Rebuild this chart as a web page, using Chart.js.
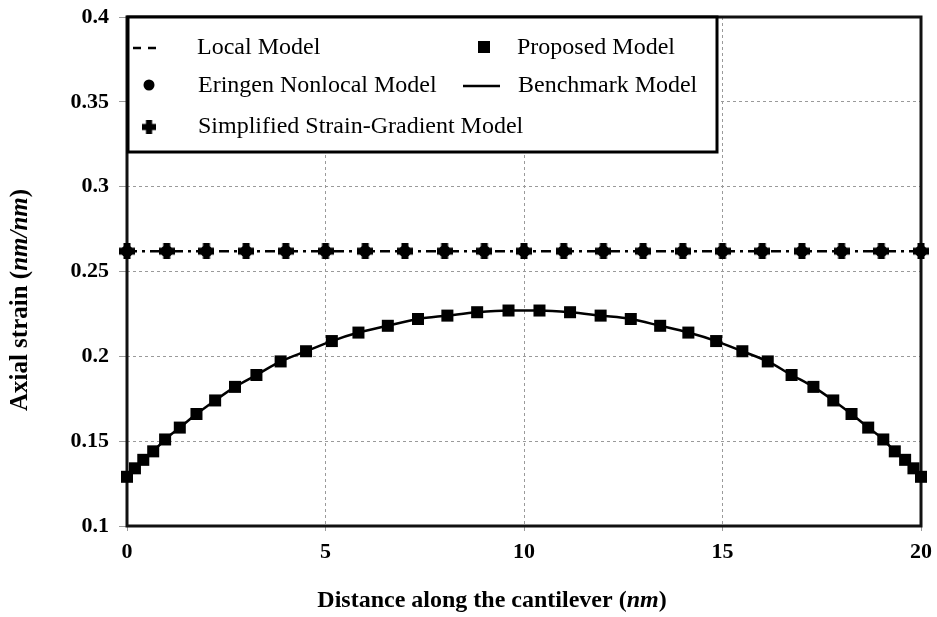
<!DOCTYPE html>
<html>
<head>
<meta charset="utf-8">
<script src="https://cdn.jsdelivr.net/npm/chart.js@4.4.0/dist/chart.umd.min.js"></script>
<style>
  html, body { margin: 0; padding: 0; background: #fff; }
  #wrap { width: 937px; height: 617px; position: relative; }
</style>
</head>
<body>
<div id="wrap"><canvas id="c" width="937" height="617"></canvas></div>
<script>
// ---- Data ----
const gridX = [0, 1, 2, 3, 4, 5, 6, 7, 8, 9, 10, 11, 12, 13, 14, 15, 16, 17, 18, 19, 20];
const localY = [0.262, 0.262, 0.262, 0.262, 0.262, 0.262, 0.262, 0.262, 0.262, 0.262, 0.262,
                0.262, 0.262, 0.262, 0.262, 0.262, 0.262, 0.262, 0.262, 0.262, 0.262];
const eringenY = [0.262, 0.262, 0.262, 0.262, 0.262, 0.262, 0.262, 0.262, 0.262, 0.262, 0.262,
                  0.262, 0.262, 0.262, 0.262, 0.262, 0.262, 0.262, 0.262, 0.262, 0.262];
const strainGradY = [0.262, 0.262, 0.262, 0.262, 0.262, 0.262, 0.262, 0.262, 0.262, 0.262, 0.262,
                     0.262, 0.262, 0.262, 0.262, 0.262, 0.262, 0.262, 0.262, 0.262, 0.262];
const proposedX = [0, 0.2, 0.41, 0.66, 0.96, 1.33, 1.75, 2.22, 2.72, 3.26, 3.87, 4.51, 5.16, 5.83, 6.57,
                   7.33, 8.07, 8.82, 9.61, 10.39, 11.16, 11.93, 12.69, 13.43, 14.14, 14.84, 15.50, 16.14,
                   16.74, 17.29, 17.79, 18.25, 18.67, 19.05, 19.34, 19.60, 19.81, 20.0];
const proposedY = [0.129, 0.134, 0.139, 0.144, 0.151, 0.158, 0.166, 0.174, 0.182, 0.189, 0.197, 0.203,
                   0.209, 0.214, 0.218, 0.222, 0.224, 0.226, 0.227, 0.227, 0.226, 0.224, 0.222, 0.218,
                   0.214, 0.209, 0.203, 0.197, 0.189, 0.182, 0.174, 0.166, 0.158, 0.151, 0.144, 0.139,
                   0.134, 0.129];
const benchmarkX = proposedX;
const benchmarkY = [0.128, 0.134, 0.139, 0.144, 0.151, 0.158, 0.166, 0.174, 0.182, 0.189, 0.197, 0.203,
                    0.209, 0.214, 0.218, 0.222, 0.224, 0.226, 0.227, 0.227, 0.226, 0.224, 0.222, 0.218,
                    0.214, 0.209, 0.203, 0.197, 0.189, 0.182, 0.174, 0.166, 0.158, 0.151, 0.144, 0.139,
                    0.134, 0.128];
const xTickValues = [0, 5, 10, 15, 20];
const yTickValues = [0.1, 0.15, 0.2, 0.25, 0.3, 0.35, 0.4];
const labels = {
  local: 'Local Model',
  eringen: 'Eringen Nonlocal Model',
  strainGrad: 'Simplified Strain-Gradient Model',
  proposed: 'Proposed Model',
  benchmark: 'Benchmark Model'
};
const xTitleParts = [['Distance along the cantilever ', false], ['(', false], ['nm', true], [')', false]];
const yTitleParts = [['Axial strain ', false], ['(', false], ['nm/nm', true], [')', false]];

const pts = (xs, ys) => xs.map((x, i) => ({ x: x, y: ys[i] }));

// fat plus marker
function plusCanvas(size, arm) {
  const c = document.createElement('canvas');
  c.width = size; c.height = size;
  const g = c.getContext('2d');
  g.fillStyle = '#000';
  g.fillRect((size - arm) / 2, 0, arm, size);
  g.fillRect(0, (size - arm) / 2, size, arm);
  return c;
}
const plusImg = plusCanvas(16, 7);

const SERIF = '"Liberation Serif", "Times New Roman", serif';

function drawMixed(ctx, parts, x, y, size) {
  let total = 0;
  const widths = parts.map(p => {
    ctx.font = (p[1] ? 'italic ' : '') + 'bold ' + size + 'px ' + SERIF;
    const w = ctx.measureText(p[0]).width;
    total += w;
    return w;
  });
  let cx = x - total / 2;
  ctx.textAlign = 'left';
  ctx.textBaseline = 'middle';
  parts.forEach((p, i) => {
    ctx.font = (p[1] ? 'italic ' : '') + 'bold ' + size + 'px ' + SERIF;
    ctx.fillText(p[0], cx, y);
    cx += widths[i];
  });
}

const framePlugin = {
  id: 'frame',
  beforeDatasetsDraw(chart) {
    const a = chart.chartArea, ctx = chart.ctx;
    ctx.save();
    ctx.strokeStyle = '#111';
    ctx.lineWidth = 3;
    ctx.strokeRect(a.left, a.top, a.right - a.left, a.bottom - a.top);
    ctx.restore();
  },
  afterDraw(chart) {
    const ctx = chart.ctx;
    const a = chart.chartArea;
    ctx.save();
    ctx.fillStyle = '#000';
    // axis titles
    drawMixed(ctx, xTitleParts, 492, 601, 24);
    ctx.save();
    ctx.translate(21, 300);
    ctx.rotate(-Math.PI / 2);
    drawMixed(ctx, yTitleParts, 0, 0, 25);
    ctx.restore();

    // legend box
    const bx = a.left + 1, by = a.top, bw = 717 - a.left - 1, bh = 135;
    ctx.fillStyle = '#fff';
    ctx.fillRect(bx, by, bw, bh);
    ctx.strokeStyle = '#000';
    ctx.lineWidth = 3;
    ctx.strokeRect(bx, by, bw, bh);

    ctx.fillStyle = '#000';
    ctx.font = '24px ' + SERIF;
    ctx.textAlign = 'left';
    ctx.textBaseline = 'middle';
    const r1 = by + 31, r2 = by + 69, r3 = by + 110;
    // Local (dashed)
    ctx.lineWidth = 2.5;
    ctx.setLineDash([8, 7]);
    ctx.beginPath(); ctx.moveTo(133, r1); ctx.lineTo(162, r1); ctx.stroke();
    ctx.setLineDash([]);
    ctx.fillText(labels.local, 197, r1);
    // Eringen (circle)
    ctx.beginPath(); ctx.arc(149, r2 - 1, 5.5, 0, Math.PI * 2); ctx.fill();
    ctx.fillText(labels.eringen, 198, r2);
    // Strain-gradient (plus)
    ctx.drawImage(plusImg, 149 - 7, r3 - 7, 14, 14);
    ctx.fillText(labels.strainGrad, 198, r3);
    // Proposed (square)
    ctx.fillRect(484 - 6, r1 - 7, 12, 12);
    ctx.fillText(labels.proposed, 517, r1);
    // Benchmark (solid line)
    ctx.lineWidth = 2.5;
    ctx.beginPath(); ctx.moveTo(463, r2); ctx.lineTo(500, r2); ctx.stroke();
    ctx.fillText(labels.benchmark, 518, r2);
    ctx.restore();
  }
};

new Chart(document.getElementById('c'), {
  type: 'scatter',
  data: {
    datasets: [
      {
        label: labels.benchmark,
        data: pts(benchmarkX, benchmarkY),
        showLine: true, tension: 0.4, cubicInterpolationMode: 'monotone',
        borderColor: '#000', borderWidth: 2.5, pointRadius: 0, order: 5
      },
      {
        label: labels.local,
        data: pts(gridX, localY),
        showLine: true, borderColor: '#000', borderWidth: 2.5,
        borderDash: [10, 5, 3, 5], pointRadius: 0, order: 4
      },
      {
        label: labels.proposed,
        data: pts(proposedX, proposedY),
        showLine: false, pointStyle: 'rect', pointRadius: 8.5,
        backgroundColor: '#000', borderColor: '#000', borderWidth: 0, order: 3
      },
      {
        label: labels.strainGrad,
        data: pts(gridX, strainGradY),
        showLine: false, pointStyle: plusImg, pointRadius: 8, order: 2
      },
      {
        label: labels.eringen,
        data: pts(gridX, eringenY),
        showLine: false, pointStyle: 'circle', pointRadius: 6,
        backgroundColor: '#000', borderColor: '#000', borderWidth: 0, order: 1
      }
    ]
  },
  options: {
    responsive: false,
    animation: false,
    clip: false,
    layout: { padding: { left: 0, right: 16, top: 17, bottom: 0 } },
    plugins: { legend: { display: false }, tooltip: { enabled: false } },
    scales: {
      x: {
        type: 'linear', min: 0, max: 20,
        afterBuildTicks: s => { s.ticks = xTickValues.map(v => ({ value: v })); },
        afterFit: s => { s.height = 91; s.paddingLeft = 0; s.paddingRight = 0; },
        ticks: {
          color: '#000', padding: 8,
          font: { family: SERIF, size: 22, weight: 'bold' },
          callback: v => String(v)
        },
        grid: { color: '#9a9a9a', lineWidth: 1, tickLength: 5, tickColor: '#9a9a9a' },
        border: { display: false, dash: [3, 3] }
      },
      y: {
        type: 'linear', min: 0.1, max: 0.4,
        afterBuildTicks: s => { s.ticks = yTickValues.map(v => ({ value: v })); },
        afterFit: s => { s.width = 127; s.paddingTop = 0; s.paddingBottom = 0; },
        ticks: {
          color: '#000', padding: 10,
          font: { family: SERIF, size: 22, weight: 'bold' },
          callback: v => String(Math.round(v * 100) / 100)
        },
        grid: { color: '#9a9a9a', lineWidth: 1, tickLength: 8, tickColor: '#9a9a9a' },
        border: { display: false, dash: [3, 3] }
      }
    }
  },
  plugins: [framePlugin]
});
</script>
</body>
</html>
